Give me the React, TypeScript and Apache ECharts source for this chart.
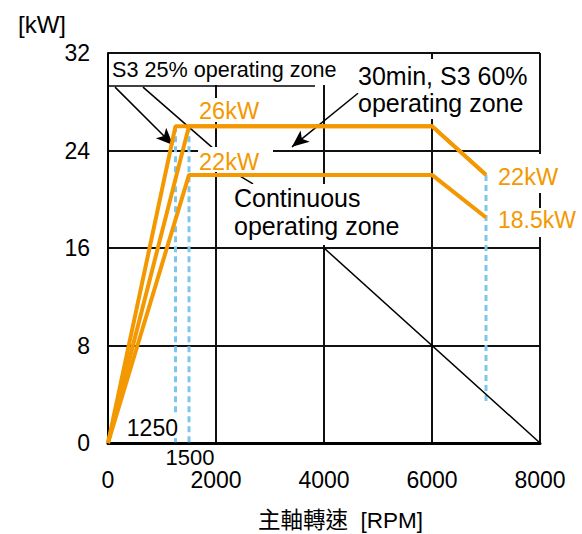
import React, { useEffect, useRef } from "react";
import * as echarts from "echarts";

// Speed (RPM) / power (kW) curves
const s3Zone25 = [[0, 0], [1250, 26], [6000, 26], [7000, 22]];
const s3Zone60 = [[0, 0], [1500, 26], [6000, 26], [7000, 22]];
const continuousZone = [[0, 0], [1500, 22], [6000, 22], [7000, 18.5]];
// dotted reference lines: [speed, top kW, bottom kW]
const speedMarks = [[1250, 26, 0], [1500, 26, 0], [7000, 22, 3.3]];
// black diagonal
const diagonal = [[4000, 16], [8000, 0]];
// leader lines in data coordinates: [x1, y1, x2, y2, arrow]
const leaders: [number, number, number, number, boolean][] = [
  [130, 29.2, 1204, 24.45, true],
  [648, 29.2, 1944, 24.2, false],
  [4630, 28.7, 3407, 24.3, true],
  [2407, 22.0, 2685, 21.26, false],
  [0, 29.3, 3833, 29.3, false],
];

const ORANGE = "#F39800";
const BLUE = "#7CC7EB";
const FONT = "'Liberation Sans', Arial, 'Noto Sans CJK TC', sans-serif";

export default function App() {
  const ref = useRef<HTMLDivElement>(null);
  useEffect(() => {
    if (!ref.current) return;
    const chart = echarts.init(ref.current, undefined, { renderer: "svg" });
    const orangeSeries = [s3Zone25, s3Zone60, continuousZone].map((d, i) => ({
      type: "line",
      name: "zone" + i,
      data: d,
      symbol: "none",
      z: 5,
      lineStyle: { color: ORANGE, width: 4 },
      silent: true,
    }));
    const dotted = speedMarks.map((m, i) => ({
      type: "line",
      name: "mark" + i,
      data: [[m[0], m[1]], [m[0], m[2]]],
      symbol: "none",
      z: 3,
      lineStyle: { color: BLUE, width: 3, type: [6, 4] },
      silent: true,
    }));
    const bg = (x: number, y: number, w: number, h: number) => ({
      type: "rect",
      shape: { x, y, width: w, height: h },
      style: { fill: "#fff" },
      z: 100,
      silent: true,
    });
    const txt = (x: number, y: number, text: string, size: number, fill = "#000", align = "left", lh?: number) => ({
      type: "text",
      x,
      y,
      z: 101,
      silent: true,
      style: {
        text,
        fill,
        font: `${size}px ${FONT}`,
        textAlign: align,
        textVerticalAlign: "middle",
        lineHeight: lh ?? size,
      },
    });
    chart.setOption({
      animation: false,
      grid: { left: 108, right: 42, top: 53, bottom: 91, outerBoundsMode: "none" },
      xAxis: {
        type: "value",
        min: 0,
        max: 8000,
        interval: 2000,
        axisLine: { show: true, onZero: false, lineStyle: { color: "#000", width: 3 } },
        axisTick: { show: false },
        axisLabel: {
          color: "#000",
          fontSize: 23,
          fontFamily: FONT,
          margin: 25,
          formatter: (v: number) => String(v),
        },
        splitLine: { show: true, lineStyle: { color: "#111", width: 2 } },
      },
      yAxis: {
        type: "value",
        min: 0,
        max: 32,
        interval: 8,
        axisLine: { show: true, onZero: false, lineStyle: { color: "#000", width: 2 } },
        axisTick: { show: false },
        axisLabel: { color: "#000", fontSize: 23, fontFamily: FONT, margin: 18 },
        splitLine: { show: true, lineStyle: { color: "#111", width: 2 } },
      },
      series: [
        ...dotted,
        ...orangeSeries,
        {
          type: "line",
          name: "diag",
          data: diagonal,
          symbol: "none",
          z: 4,
          silent: true,
          lineStyle: { color: "#000", width: 1.5 },
          markLine: {
            silent: true,
            symbol: ["none", "none"],
            symbolSize: [11, 17],
            label: { show: false },
            lineStyle: { color: "#000", width: 1.5, type: "solid" },
            data: leaders.map((l) => [
              { coord: [l[0], l[1]], symbol: "none" },
              { coord: [l[2], l[3]], symbol: l[4] ? "arrow" : "none" },
            ]),
          },
        },
      ],
      graphic: [
        bg(109, 54, 232, 31),
        bg(197, 98, 66, 24),
        bg(198, 147, 75, 25),
        bg(359, 59, 176, 60),
        bg(232, 184, 174, 61),
        bg(494, 154, 72, 39),
        bg(494, 208, 88, 29),
        bg(125, 415, 54, 23),
        txt(112, 69, "S3 25% operating zone", 21.6),
        txt(358, 89, "30min, S3 60%\noperating zone", 25, "#000", "left", 27),
        txt(234, 212, "Continuous\noperating zone", 25, "#000", "left", 28),
        txt(199, 111, "26kW", 23.5, ORANGE),
        txt(199, 162, "22kW", 23.5, ORANGE),
        txt(498, 177, "22kW", 23.5, ORANGE),
        txt(498, 220, "18.5kW", 23, ORANGE),
        txt(178, 428, "1250", 23, "#000", "right"),
        txt(190, 457, "1500", 22, "#000", "center"),
        txt(18, 24, "[kW]", 24),
        txt(258, 520, "主軸轉速  [RPM]", 22.5),
      ],
    });
    return () => chart.dispose();
  }, []);
  return (
    <div
      ref={ref}
      style={{ position: "fixed", left: 0, top: 0, width: 582, height: 534, background: "#fff" }}
    />
  );
}
